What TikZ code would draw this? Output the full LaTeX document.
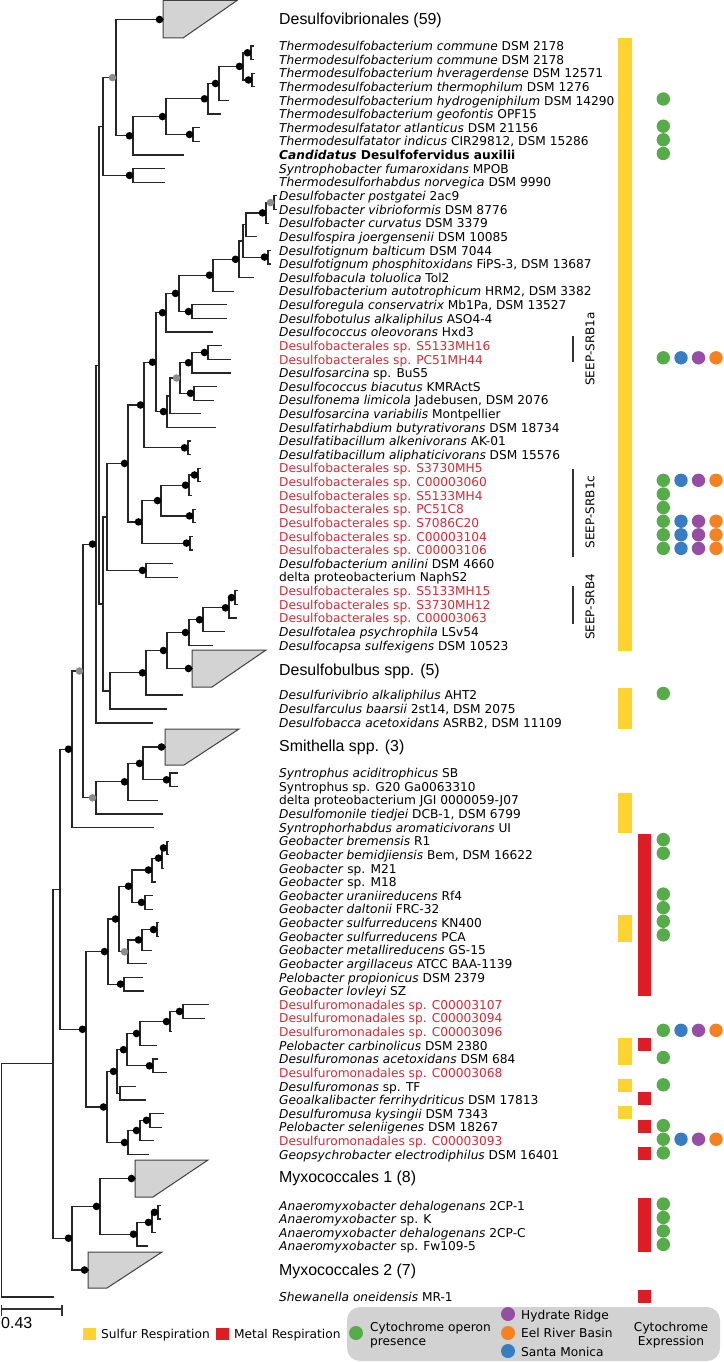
\documentclass[tikz,border=0pt]{standalone}
\usepackage{fontspec}
\setmainfont{DejaVu Sans}
\newfontfamily\arialf{Liberation Sans}
\definecolor{cyel}{RGB}{253,212,46}
\definecolor{cred}{RGB}{222,28,36}
\definecolor{cgreen}{RGB}{86,172,72}
\definecolor{cblue}{RGB}{55,125,195}
\definecolor{cpurple}{RGB}{150,78,165}
\definecolor{corange}{RGB}{246,130,31}
\definecolor{lred}{RGB}{208,44,56}
\definecolor{dotgray}{RGB}{140,140,140}
\definecolor{trifill}{RGB}{211,211,211}
\definecolor{boxgray}{RGB}{210,210,210}
\newcommand{\lblfont}{\fontsize{12.2}{14}\selectfont}
\newcommand{\grpfont}{\arialf\fontsize{15.9}{18}\selectfont}
\newcommand{\Tnode}[5]{\draw[br] (#1,#3) -- (#2,#3) (#2,#4) -- (#2,#5);}
\newcommand{\Tleaf}[3]{\draw[br] (#1,#3) -- (#2,#3);}
\newcommand{\Bdot}[2]{\fill[black] (#1,#2) circle[radius=3.8pt];}
\newcommand{\Gdot}[2]{\fill[dotgray] (#1,#2) circle[radius=3.8pt];}
\newcommand{\Lab}[3]{\node[lab] (#1) at (279,#2) {#3};}
\newcommand{\Rd}[1]{\textcolor{lred}{#1}}
\newcommand{\Gc}[1]{\fill[cgreen] (663.3,#1) circle[radius=6.7pt];}
\newcommand{\Ac}[1]{\fill[cgreen] (663.3,#1) circle[radius=6.7pt];\fill[cblue] (681,#1) circle[radius=6.7pt];\fill[cpurple] (698.5,#1) circle[radius=6.7pt];\fill[corange] (716,#1) circle[radius=6.7pt];}
\newcommand{\Yb}[2]{\fill[cyel] (618,#1) rectangle (632,#2);}
\newcommand{\Rb}[2]{\fill[cred] (638,#1) rectangle (651,#2);}
\begin{document}
\begin{tikzpicture}[x=1pt,y=-1pt,
  br/.style={line width=1.2pt,draw=black!85,line cap=rect},
  tri/.style={fill=trifill,draw=black!75,line width=1pt,line join=miter},
  lab/.style={anchor=base west,yshift=-4.7pt,inner sep=0pt,font=\lblfont},
  grp/.style={anchor=base west,yshift=-5.6pt,inner sep=0pt,font=\grpfont},
  leg/.style={anchor=base west,yshift=-4.5pt,inner sep=0pt,font=\lblfont},
  seep/.style={rotate=90,inner sep=0pt,font=\fontsize{12}{14}\selectfont}]
\useasboundingbox (0,0) rectangle (723,1362);

% ---------- triangles (collapsed clades)
\draw[tri] (163,0.5) -- (237,0.5) -- (183,38) -- (163,38) -- cycle;
\draw[tri] (192,650) -- (266,650) -- (212,687) -- (192,687) -- cycle;
\draw[tri] (165,729) -- (239,729) -- (184,765) -- (165,765) -- cycle;
\draw[tri] (135,1160) -- (208,1160) -- (153,1197) -- (135,1197) -- cycle;
\draw[tri] (88,1252) -- (162,1252) -- (107,1288) -- (88,1288) -- cycle;

% ---------- tree: top part
\Tnode{99}{103}{126.5}{77.6}{175.4}
\Tnode{103}{116}{77.6}{19.5}{135.8}
\Tleaf{116}{163}{19.5}
\Tnode{116}{133}{135.8}{116.6}{155.0}
\Tleaf{133}{183}{155.0}
\Tnode{133}{166}{116.6}{98.8}{134.5}
\Tnode{166}{193}{134.5}{127.7}{141.3}
\Tleaf{193}{199}{127.7}\Tleaf{193}{199}{141.3}
\Tnode{166}{208}{98.8}{83.5}{114.1}
\Tleaf{208}{220}{114.1}
\Tnode{208}{219}{83.5}{66.4}{100.5}
\Tleaf{219}{228}{100.5}
\Tnode{219}{243}{66.4}{52.8}{80.0}
\Tnode{243}{251}{52.8}{46.0}{59.6}
\Tleaf{251}{253.5}{46.0}\Tleaf{251}{253.5}{59.6}
\Tnode{243}{252}{80.0}{73.2}{86.9}
\Tleaf{252}{254}{73.2}\Tleaf{252}{254}{86.9}
\Tnode{103}{133}{175.4}{168.6}{182.2}
\Tleaf{133}{164}{168.6}\Tleaf{133}{164}{182.2}

% ---------- Desulfobacterales
\Tnode{96}{99}{365.2}{126.5}{603.9}
\Tnode{99}{103}{603.9}{516.9}{690.9}
\Tnode{103}{107}{516.9}{463.4}{570.4}
\Tnode{107}{146}{570.4}{563.6}{577.2}
\Tleaf{146}{172}{563.6}\Tleaf{146}{177}{577.2}
\Tnode{107}{128}{463.4}{405}{521.9}
\Tnode{128}{144}{405}{362.2}{447.8}
\Tnode{144}{188}{447.8}{441.0}{454.6}
\Tleaf{188}{190}{441.0}\Tleaf{188}{190}{454.6}
\Tnode{144}{156}{362.2}{312.7}{411.6}
\Tnode{156}{166}{312.7}{293.4}{332.0}
\Tleaf{166}{212}{332.0}
\Tnode{166}{179}{293.4}{275.2}{311.6}
\Tnode{179}{192}{311.6}{304.8}{318.4}
\Tleaf{192}{226}{304.8}\Tleaf{192}{226}{318.4}
\Tnode{179}{213}{275.2}{259.3}{291.2}
\Tleaf{213}{233}{291.2}
\Tnode{213}{239}{259.3}{241}{277.5}
\Tleaf{239}{253}{277.5}
\Tnode{239}{243}{241}{224.8}{257.1}
\Tnode{243}{268}{257.1}{250.3}{263.9}
\Tleaf{268}{270}{250.3}\Tleaf{268}{270}{263.9}
\Tnode{243}{246}{224.8}{212.9}{236.7}
\Tleaf{246}{256}{236.7}
\Tnode{246}{266}{212.9}{202.6}{223.1}
\Tleaf{266}{268}{223.1}
\Tnode{266}{274}{202.6}{195.8}{209.4}
\Tleaf{274}{276}{195.8}\Tleaf{274}{276}{209.4}
\Tnode{156}{167}{411.6}{395.9}{427.4}
\Tleaf{167}{215}{427.4}
\Tnode{167}{170}{395.9}{378}{413.7}
\Tleaf{170}{200}{413.7}
\Tnode{170}{180}{378}{362.7}{393.3}
\Tnode{180}{192}{362.7}{352.5}{372.9}
\Tleaf{192}{230}{372.9}
\Tnode{192}{208}{352.5}{345.6}{359.3}
\Tleaf{208}{221}{345.6}\Tleaf{208}{230}{359.3}
\Tnode{180}{194}{393.3}{386.5}{400.1}
\Tleaf{194}{216}{386.5}\Tleaf{194}{213}{400.1}
\Tnode{128}{142}{521.9}{500.6}{543.1}
\Tnode{142}{161}{500.6}{485.2}{515.9}
\Tnode{161}{189}{485.2}{475}{495.5}
\Tleaf{189}{191}{495.5}
\Tnode{189}{198}{475}{468.2}{481.8}
\Tleaf{198}{200}{468.2}\Tleaf{198}{200}{481.8}
\Tnode{161}{193}{515.9}{509.1}{522.7}
\Tleaf{193}{195}{509.1}\Tleaf{193}{195}{522.7}
\Tnode{142}{190}{543.1}{536.3}{549.9}
\Tleaf{190}{192}{536.3}\Tleaf{190}{192}{549.9}

% ---------- Desulfobulbaceae etc.
\Tnode{103}{110}{690.9}{672.8}{709}
\Tleaf{110}{166}{709}
\Tnode{110}{146}{672.8}{650.5}{695}
\Tleaf{146}{182}{695}
\Tnode{146}{167}{650.5}{632.5}{668.5}
\Tleaf{167}{192}{668.5}
\Tnode{167}{189}{632.5}{619.7}{645.3}
\Tleaf{189}{212}{645.3}
\Tnode{189}{203}{619.7}{607.8}{631.7}
\Tleaf{203}{224}{631.7}
\Tnode{203}{229}{607.8}{597.6}{618.0}
\Tleaf{229}{236}{618.0}
\Tnode{229}{235}{597.6}{590.8}{604.4}
\Tleaf{235}{237}{590.8}\Tleaf{235}{237}{604.4}

% ---------- Syntrophaceae
\Tnode{83}{96}{544.1}{365.2}{723}
\Tleaf{96}{152}{723}
\Tnode{72}{83}{671}{544.1}{797.8}
\Tnode{83}{96}{797.8}{781.8}{813.9}
\Tleaf{96}{162}{813.9}
\Tnode{96}{128}{781.8}{763.4}{800.2}
\Tleaf{128}{157}{800.2}
\Tnode{128}{143}{763.4}{747}{779.8}
\Tleaf{143}{165}{747}
\Tnode{143}{170}{779.8}{773}{786.6}
\Tleaf{170}{177}{773}\Tleaf{170}{177}{786.6}
\Tnode{60}{72}{749.2}{671}{827.5}
\Tleaf{72}{153}{827.5}
\Tnode{53}{60}{889.3}{749.2}{1029.3}

% ---------- Geobacter / Desulfuromonadales
\Tnode{60}{86}{1029.3}{951.6}{1107}
\Tnode{86}{108}{951.6}{919}{984.1}
\Tnode{108}{124}{984.1}{977.3}{990.9}
\Tleaf{124}{142}{977.3}\Tleaf{124}{143}{990.9}
\Tnode{108}{119}{919}{886.2}{951.8}
\Tnode{119}{132}{886.2}{870}{902.4}
\Tnode{132}{152}{870}{858.1}{882.0}
\Tleaf{152}{155}{882.0}
\Tnode{152}{162}{858.1}{847.9}{868.3}
\Tleaf{162}{163.5}{868.3}
\Tnode{162}{167}{847.9}{841.1}{854.7}
\Tleaf{167}{168.5}{841.1}\Tleaf{167}{168.5}{854.7}
\Tnode{132}{145}{902.4}{895.6}{909.2}
\Tleaf{145}{152}{895.6}\Tleaf{145}{152}{909.2}
\Tnode{119}{128}{951.8}{939.9}{963.7}
\Tleaf{128}{146}{963.7}
\Tnode{128}{142}{939.9}{929.6}{950.1}
\Tleaf{142}{151}{950.1}
\Tnode{142}{157}{929.6}{922.8}{936.4}
\Tleaf{157}{158.5}{922.8}\Tleaf{157}{158.5}{936.4}
\Tnode{86}{107}{1107}{1071.4}{1142.5}
\Tnode{107}{117}{1071.4}{1049.7}{1093.1}
\Tnode{117}{127}{1049.7}{1033.5}{1065.8}
\Tnode{127}{140}{1033.5}{1021.6}{1045.4}
\Tleaf{140}{156}{1045.4}
\Tnode{140}{170}{1021.6}{1011.4}{1031.8}
\Tleaf{170}{171.5}{1031.8}
\Tnode{170}{183}{1011.4}{1004.5}{1018.2}
\Tleaf{183}{208}{1004.5}\Tleaf{183}{204}{1018.2}
\Tnode{127}{153}{1065.8}{1059.0}{1072.6}
\Tleaf{153}{157}{1059.0}\Tleaf{153}{166}{1072.6}
\Tnode{117}{120}{1093.1}{1086.3}{1099.9}
\Tleaf{120}{135}{1086.3}\Tleaf{120}{145}{1099.9}
\Tnode{107}{128}{1142.5}{1130.5}{1154.4}
\Tleaf{128}{148}{1154.4}
\Tnode{128}{140}{1130.5}{1120.3}{1140.7}
\Tleaf{140}{153}{1140.7}
\Tnode{140}{150}{1120.3}{1113.5}{1127.1}
\Tleaf{150}{163}{1113.5}\Tleaf{150}{161}{1127.1}

% ---------- Myxococcales and root
\Tnode{1.5}{53}{1063.8}{889.3}{1238.2}
\Tnode{53}{72}{1238.2}{1206.4}{1270}
\Tleaf{72}{88}{1270}
\Tnode{72}{100}{1206.4}{1178.5}{1234.2}
\Tleaf{100}{135}{1178.5}
\Tnode{100}{137}{1234.2}{1222.4}{1246}
\Tleaf{137}{147}{1246}
\Tnode{137}{152}{1222.4}{1212.3}{1232.5}
\Tleaf{152}{155}{1232.5}
\Tnode{152}{158}{1212.3}{1205.5}{1219}
\Tleaf{158}{160}{1205.5}\Tleaf{158}{160}{1219}
\draw[br] (1.5,1063.8) -- (1.5,1297) -- (53,1297);

% ---------- support dots
\Bdot{159.5}{19.5}\Gdot{112.5}{77.6}\Bdot{129.5}{135.8}\Bdot{162.5}{116.6}
\Bdot{189.5}{134.5}\Bdot{204.5}{98.8}\Bdot{215.5}{83.5}\Bdot{239.5}{66.4}
\Bdot{247.5}{52.8}\Bdot{248.5}{80}\Bdot{129.5}{175.4}
\Bdot{142.5}{570.4}\Bdot{124.5}{463.4}\Bdot{140.5}{405}\Bdot{184.5}{447.8}
\Bdot{152.5}{362.2}\Bdot{162.5}{312.7}\Bdot{175.5}{293.4}\Bdot{188.5}{311.6}
\Bdot{209.5}{275.2}\Bdot{235.5}{259.3}\Bdot{264.5}{257.1}\Bdot{262.5}{212.9}
\Gdot{270.5}{202.6}\Bdot{163.5}{411.6}\Gdot{176.5}{378}\Bdot{188.5}{362.7}
\Bdot{204.5}{352.5}\Bdot{190.5}{393.3}\Bdot{138.5}{521.9}\Bdot{157.5}{500.6}
\Bdot{185.5}{485.2}\Bdot{194.5}{475}\Bdot{189.5}{515.9}\Bdot{186.5}{543.1}
\Bdot{142.5}{672.8}\Bdot{163.5}{650.5}\Bdot{188.5}{668.5}\Bdot{185.5}{632.5}
\Bdot{199.5}{619.7}\Bdot{225.5}{607.8}\Bdot{231.5}{597.6}
\Bdot{92.5}{544.1}\Gdot{79.5}{671}\Gdot{92.5}{797.8}\Bdot{124.5}{781.8}
\Bdot{139.5}{763.4}\Bdot{161.5}{747}\Bdot{166.5}{779.8}\Bdot{68.5}{749.2}
\Bdot{82.5}{1029.3}\Bdot{104.5}{951.6}\Bdot{120.5}{984.1}\Bdot{115.5}{919}
\Bdot{128.5}{886.2}\Bdot{148.5}{870}\Bdot{158.5}{858.1}\Bdot{163.5}{847.9}
\Bdot{141.5}{902.4}\Gdot{124.5}{951.8}\Bdot{138.5}{939.9}\Bdot{153.5}{929.6}
\Bdot{103.5}{1107}\Bdot{113.5}{1071.4}\Bdot{123.5}{1049.7}\Bdot{136.5}{1033.5}
\Bdot{166.5}{1021.6}\Bdot{179.5}{1011.4}\Bdot{149.5}{1065.8}\Bdot{124.5}{1142.5}
\Bdot{136.5}{1130.5}\Bdot{146.5}{1120.3}
\Bdot{68.5}{1238.2}\Bdot{84.5}{1270}\Bdot{96.5}{1206.4}\Bdot{131.5}{1178.5}
\Bdot{133.5}{1234.2}\Bdot{148.5}{1222.4}\Bdot{154.5}{1212.3}

% ---------- group labels
\node[grp] (g1) at (279,19) {Desulfovibrionales (59)};
\node[grp] (g2) at (279,670) {Desulfobulbus spp. (5)};
\node[grp] (g3) at (279,746) {Smithella spp. (3)};
\node[grp] (g4) at (279,1177) {Myxococcales 1 (8)};
\node[grp] (g5) at (279,1270) {Myxococcales 2 (7)};

% ---------- leaf labels
\Lab{t1}{46.0}{\textit{Thermodesulfobacterium commune} DSM 2178}
\Lab{t2}{59.6}{\textit{Thermodesulfobacterium commune} DSM 2178}
\Lab{t3}{73.2}{\textit{Thermodesulfobacterium hveragerdense} DSM 12571}
\Lab{t4}{86.9}{\textit{Thermodesulfobacterium thermophilum} DSM 1276}
\Lab{t5}{100.5}{\textit{Thermodesulfobacterium hydrogeniphilum} DSM 14290}
\Lab{t6}{114.1}{\textit{Thermodesulfobacterium geofontis} OPF15}
\Lab{t7}{127.7}{\textit{Thermodesulfatator atlanticus} DSM 21156}
\Lab{t8}{141.3}{\textit{Thermodesulfatator indicus} CIR29812, DSM 15286}
\Lab{t9}{155.0}{\textbf{\textit{Candidatus} Desulfofervidus auxilii}}
\Lab{t10}{168.6}{\textit{Syntrophobacter fumaroxidans} MPOB}
\Lab{t11}{182.2}{\textit{Thermodesulforhabdus norvegica} DSM 9990}
\Lab{t12}{195.8}{\textit{Desulfobacter postgatei} 2ac9}
\Lab{t13}{209.4}{\textit{Desulfobacter vibrioformis} DSM 8776}
\Lab{t14}{223.1}{\textit{Desulfobacter curvatus} DSM 3379}
\Lab{t15}{236.7}{\textit{Desulfospira joergensenii} DSM 10085}
\Lab{t16}{250.3}{\textit{Desulfotignum balticum} DSM 7044}
\Lab{t17}{263.9}{\textit{Desulfotignum phosphitoxidans} FiPS-3, DSM 13687}
\Lab{t18}{277.5}{\textit{Desulfobacula toluolica} Tol2}
\Lab{t19}{291.2}{\textit{Desulfobacterium autotrophicum} HRM2, DSM 3382}
\Lab{t20}{304.8}{\textit{Desulforegula conservatrix} Mb1Pa, DSM 13527}
\Lab{t21}{318.4}{\textit{Desulfobotulus alkaliphilus} ASO4-4}
\Lab{t22}{332.0}{\textit{Desulfococcus oleovorans} Hxd3}
\Lab{t23}{345.6}{\Rd{Desulfobacterales sp. S5133MH16}}
\Lab{t24}{359.3}{\Rd{Desulfobacterales sp. PC51MH44}}
\Lab{t25}{372.9}{\textit{Desulfosarcina} sp. BuS5}
\Lab{t26}{386.5}{\textit{Desulfococcus biacutus} KMRActS}
\Lab{t27}{400.1}{\textit{Desulfonema limicola} Jadebusen, DSM 2076}
\Lab{t28}{413.7}{\textit{Desulfosarcina variabilis} Montpellier}
\Lab{t29}{427.4}{\textit{Desulfatirhabdium butyrativorans} DSM 18734}
\Lab{t30}{441.0}{\textit{Desulfatibacillum alkenivorans} AK-01}
\Lab{t31}{454.6}{\textit{Desulfatibacillum aliphaticivorans} DSM 15576}
\Lab{t32}{468.2}{\Rd{Desulfobacterales sp. S3730MH5}}
\Lab{t33}{481.8}{\Rd{Desulfobacterales sp. C00003060}}
\Lab{t34}{495.5}{\Rd{Desulfobacterales sp. S5133MH4}}
\Lab{t35}{509.1}{\Rd{Desulfobacterales sp. PC51C8}}
\Lab{t36}{522.7}{\Rd{Desulfobacterales sp. S7086C20}}
\Lab{t37}{536.3}{\Rd{Desulfobacterales sp. C00003104}}
\Lab{t38}{549.9}{\Rd{Desulfobacterales sp. C00003106}}
\Lab{t39}{563.6}{\textit{Desulfobacterium anilini} DSM 4660}
\Lab{t40}{577.2}{delta proteobacterium NaphS2}
\Lab{t41}{590.8}{\Rd{Desulfobacterales sp. S5133MH15}}
\Lab{t42}{604.4}{\Rd{Desulfobacterales sp. S3730MH12}}
\Lab{t43}{618.0}{\Rd{Desulfobacterales sp. C00003063}}
\Lab{t44}{631.7}{\textit{Desulfotalea psychrophila} LSv54}
\Lab{t45}{645.3}{\textit{Desulfocapsa sulfexigens} DSM 10523}
\Lab{t46}{695}{\textit{Desulfurivibrio alkaliphilus} AHT2}
\Lab{t47}{709}{\textit{Desulfarculus baarsii} 2st14, DSM 2075}
\Lab{t48}{723}{\textit{Desulfobacca acetoxidans} ASRB2, DSM 11109}
\Lab{t49}{773.0}{\textit{Syntrophus aciditrophicus} SB}
\Lab{t50}{786.6}{Syntrophus sp. G20 Ga0063310}
\Lab{t51}{800.2}{delta proteobacterium JGI 0000059-J07}
\Lab{t52}{813.9}{\textit{Desulfomonile tiedjei} DCB-1, DSM 6799}
\Lab{t53}{827.5}{\textit{Syntrophorhabdus aromaticivorans} UI}
\Lab{t54}{841.1}{\textit{Geobacter bremensis} R1}
\Lab{t55}{854.7}{\textit{Geobacter bemidjiensis} Bem, DSM 16622}
\Lab{t56}{868.3}{\textit{Geobacter} sp. M21}
\Lab{t57}{882.0}{\textit{Geobacter} sp. M18}
\Lab{t58}{895.6}{\textit{Geobacter uraniireducens} Rf4}
\Lab{t59}{909.2}{\textit{Geobacter daltonii} FRC-32}
\Lab{t60}{922.8}{\textit{Geobacter sulfurreducens} KN400}
\Lab{t61}{936.4}{\textit{Geobacter sulfurreducens} PCA}
\Lab{t62}{950.1}{\textit{Geobacter metallireducens} GS-15}
\Lab{t63}{963.7}{\textit{Geobacter argillaceus} ATCC BAA-1139}
\Lab{t64}{977.3}{\textit{Pelobacter propionicus} DSM 2379}
\Lab{t65}{990.9}{\textit{Geobacter lovleyi} SZ}
\Lab{t66}{1004.5}{\Rd{Desulfuromonadales sp. C00003107}}
\Lab{t67}{1018.2}{\Rd{Desulfuromonadales sp. C00003094}}
\Lab{t68}{1031.8}{\Rd{Desulfuromonadales sp. C00003096}}
\Lab{t69}{1045.4}{\textit{Pelobacter carbinolicus} DSM 2380}
\Lab{t70}{1059.0}{\textit{Desulfuromonas acetoxidans} DSM 684}
\Lab{t71}{1072.6}{\Rd{Desulfuromonadales sp. C00003068}}
\Lab{t72}{1086.3}{\textit{Desulfuromonas} sp. TF}
\Lab{t73}{1099.9}{\textit{Geoalkalibacter ferrihydriticus} DSM 17813}
\Lab{t74}{1113.5}{\textit{Desulfuromusa kysingii} DSM 7343}
\Lab{t75}{1127.1}{\textit{Pelobacter seleniigenes} DSM 18267}
\Lab{t76}{1140.7}{\Rd{Desulfuromonadales sp. C00003093}}
\Lab{t77}{1154.4}{\textit{Geopsychrobacter electrodiphilus} DSM 16401}
\Lab{t78}{1205.5}{\textit{Anaeromyxobacter dehalogenans} 2CP-1}
\Lab{t79}{1219}{\textit{Anaeromyxobacter} sp. K}
\Lab{t80}{1232.5}{\textit{Anaeromyxobacter dehalogenans} 2CP-C}
\Lab{t81}{1246}{\textit{Anaeromyxobacter} sp. Fw109-5}
\Lab{t82}{1297}{\textit{Shewanella oneidensis} MR-1}

% ---------- SEEP clade marks
\draw[line width=1.2pt,black!80] (573,336) -- (573,362);
\draw[line width=1.2pt,black!80] (573,469) -- (573,557);
\draw[line width=1.2pt,black!80] (573,586) -- (573,624);
\node[seep] (s1) at (590,349) {SEEP-SRB1a};
\node[seep] (s2) at (590,512) {SEEP-SRB1c};
\node[seep] (s3) at (590,607) {SEEP-SRB4};

% ---------- respiration bars
\Yb{38}{650.8}\Yb{687.5}{728.5}\Yb{792.7}{833}\Yb{915.3}{941.9}
\Yb{1037.9}{1064.5}\Yb{1078.8}{1091.8}\Yb{1106}{1119}
\Rb{833.6}{996.4}\Rb{1037.9}{1050.9}\Rb{1092.4}{1105.4}\Rb{1119.6}{1132.6}
\Rb{1146.9}{1159.9}\Rb{1198}{1251.5}\Rb{1289.5}{1302.5}

% ---------- cytochrome circles
\Gc{99}\Gc{126.2}\Gc{139.8}\Gc{153.5}
\Ac{357.8}
\Ac{480.3}\Gc{494}\Gc{507.6}\Ac{521.2}\Ac{534.8}\Ac{548.4}
\Gc{693.5}\Gc{839.6}\Gc{853.2}\Gc{894.1}\Gc{907.7}\Gc{921.3}\Gc{934.9}
\Ac{1030.3}\Gc{1057.5}\Gc{1084.8}\Gc{1125.6}\Ac{1139.2}\Gc{1152.9}
\Gc{1204}\Gc{1217.5}\Gc{1231}\Gc{1244.5}

% ---------- scale bar
\draw[line width=1.1pt,black!80] (1.5,1309) -- (62,1309);
\draw[line width=1.1pt,black!80] (1.5,1304.5) -- (1.5,1316) (62,1304.5) -- (62,1316);
\node[anchor=base west,inner sep=0pt,font=\arialf\fontsize{16}{18}\selectfont] (sc) at (1,1328.7) {0.43};

% ---------- legend
\fill[cyel] (83,1328) rectangle (96,1340);
\node[leg] (l1) at (101,1334) {Sulfur Respiration};
\fill[cred] (216,1328) rectangle (229,1340);
\node[leg] (l2) at (234,1334) {Metal Respiration};
\fill[boxgray,rounded corners=13pt] (347,1307) rectangle (720,1361);
\fill[cgreen] (356,1333) circle[radius=7pt];
\node[leg] (l3) at (370,1327) {Cytochrome operon};
\node[leg] (l4) at (370,1340.5) {presence};
\fill[cpurple] (508,1314) circle[radius=7pt];
\fill[corange] (508,1333) circle[radius=7pt];
\fill[cblue] (508,1351) circle[radius=7pt];
\node[leg] (l5) at (521,1314.5) {Hydrate Ridge};
\node[leg] (l6) at (521,1333) {Eel River Basin};
\node[leg] (l7) at (521,1351.5) {Santa Monica};
\node[anchor=base,yshift=-4.5pt,inner sep=0pt,font=\lblfont] (l8) at (671,1326.5) {Cytochrome};
\node[anchor=base,yshift=-4.5pt,inner sep=0pt,font=\lblfont] (l9) at (671,1340.5) {Expression};
\end{tikzpicture}
\end{document}
